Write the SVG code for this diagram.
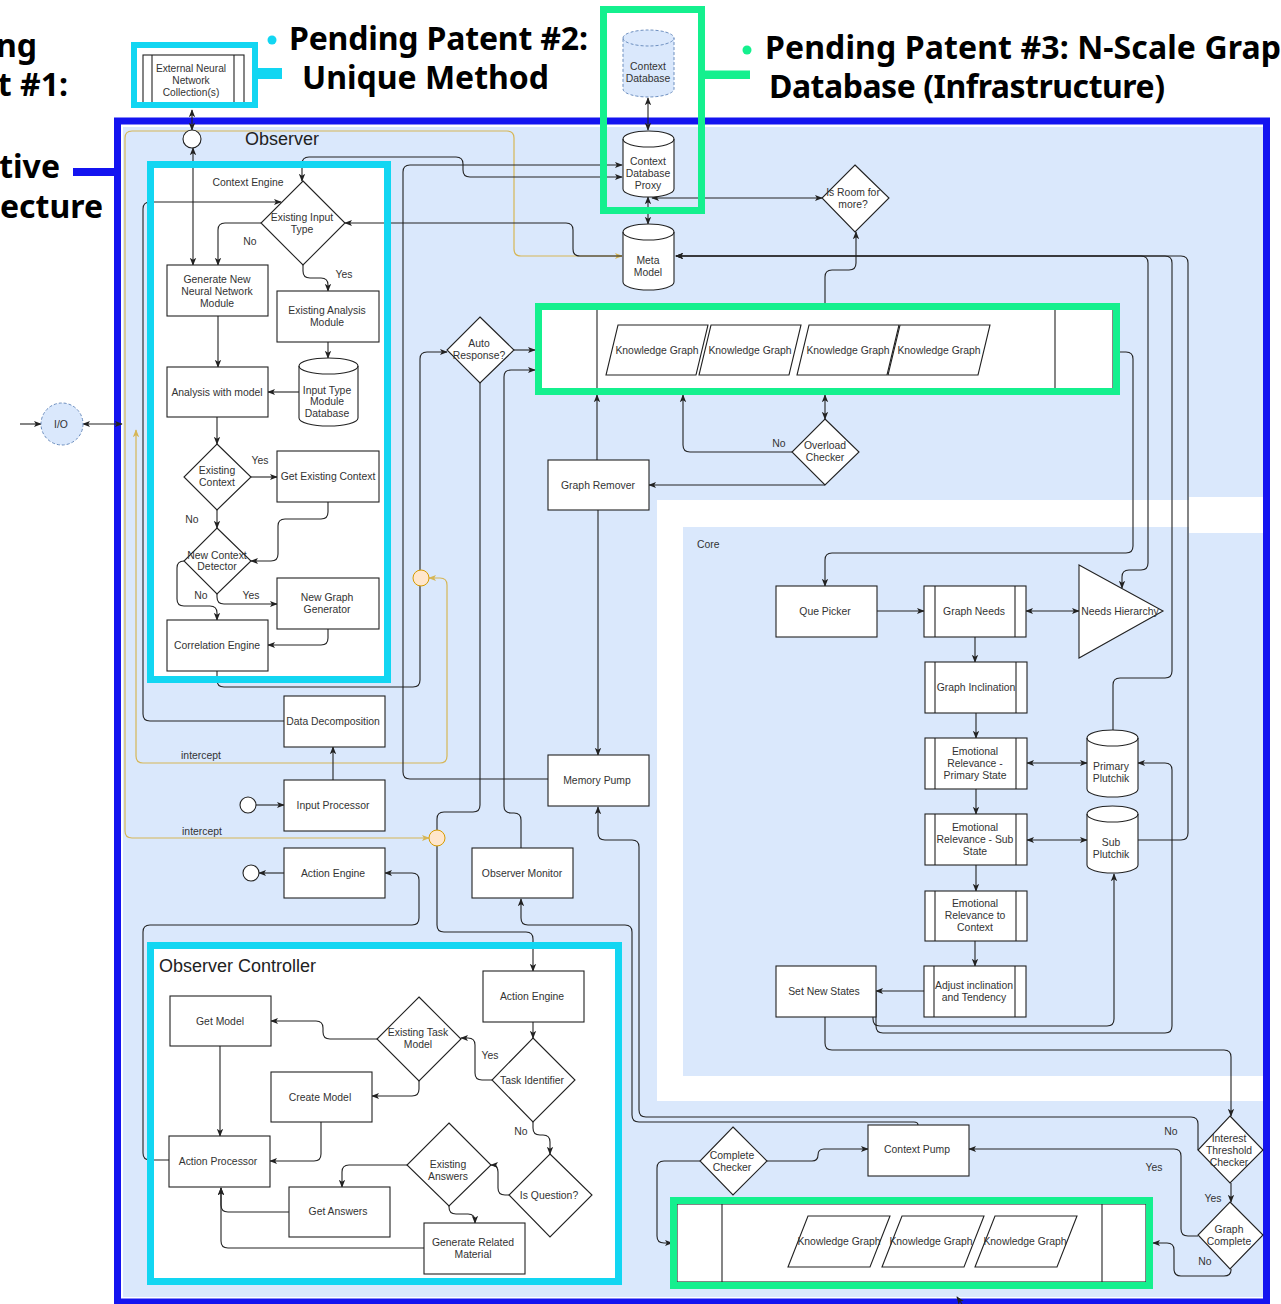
<svg xmlns="http://www.w3.org/2000/svg" width="1281" height="1304" viewBox="0 0 1281 1304">
<defs>
<marker id="a" viewBox="0 0 10 10" refX="9" refY="5" markerWidth="8" markerHeight="8" markerUnits="userSpaceOnUse" orient="auto-start-reverse"><path d="M0,1 L10,5 L0,9 L2.5,5 Z" fill="#222"/></marker>
<marker id="y" viewBox="0 0 10 10" refX="9" refY="5" markerWidth="8" markerHeight="8" markerUnits="userSpaceOnUse" orient="auto-start-reverse"><path d="M0,1 L10,5 L0,9 L2.5,5 Z" fill="#d6b656"/></marker>
<style>
.n{fill:#fff;stroke:#222;stroke-width:1.1}
.t{font-family:"Liberation Sans",Arial,sans-serif;font-size:10.4px;fill:#333;text-anchor:middle}
.l{font-family:"Liberation Sans",Arial,sans-serif;font-size:10.4px;fill:#333;text-anchor:middle}
.big{font-family:"Liberation Sans",Arial,sans-serif;font-size:18px;fill:#222}
.h{font-family:"Noto Sans","Open Sans","DejaVu Sans",sans-serif;font-size:32px;font-weight:700;fill:#000}
.e{fill:none;stroke:#222;stroke-width:1.1}
.e2{fill:none;stroke:#222;stroke-width:1.1;marker-end:url(#a)}
.e3{fill:none;stroke:#222;stroke-width:1.1;marker-end:url(#a);marker-start:url(#a)}
.tan{fill:none;stroke:#d6b656;stroke-width:1.2;marker-end:url(#y)}
.cy{fill:none;stroke:#12d6f2;stroke-width:7}
.gr{fill:none;stroke:#14f08e;stroke-width:7}
.orc{fill:#ffe6cc;stroke:#d79b00;stroke-width:1}
</style>
</defs>

<!-- titles -->
<g id="titles">
<text class="h" x="37" y="57" text-anchor="end">ng</text>
<text class="h" x="68" y="96" text-anchor="end">t #1:</text>
<text class="h" x="60" y="178" text-anchor="end">tive</text>
<text class="h" x="103" y="218" text-anchor="end">tecture</text>
<circle cx="272" cy="40" r="4.5" fill="#12d6f2"/>
<text class="h" x="289" y="50" textLength="299">Pending Patent #2:</text>
<text class="h" x="302" y="89" textLength="247">Unique Method</text>
<circle cx="747" cy="50" r="4.5" fill="#14f08e"/>
<text class="h" x="765" y="59" textLength="516">Pending Patent #3: N-Scale Grap</text>
<text class="h" x="769" y="98" textLength="396">Database (Infrastructure)</text>
<rect x="73" y="168" width="46" height="8" fill="#1414f0"/>
<rect x="256" y="68" width="26" height="11" fill="#12d6f2"/>
<rect x="704" y="70.5" width="46" height="8.5" fill="#14f08e"/>
</g>

<!-- background areas -->
<g id="areas">
<rect x="123" y="127" width="1140" height="1170" fill="#dae8fc"/>
<rect x="657" y="500" width="606" height="601" fill="#fff"/>
<rect x="683" y="527" width="580" height="549" fill="#dae8fc"/>
<rect x="1189" y="497" width="74" height="36" fill="#fff"/>
<rect x="117.5" y="121" width="1149" height="1181" fill="none" stroke="#1414f0" stroke-width="7"/>
<text class="big" x="245" y="145">Observer</text>
<text x="697" y="548" style="font-family:'Liberation Sans',Arial,sans-serif;font-size:10.4px;fill:#333">Core</text>
<rect x="150.5" y="164.5" width="237" height="515" fill="#fff"/>
<rect x="150.5" y="945.5" width="468" height="336" fill="#fff"/>
<rect x="541" y="309" width="572" height="80" class="n"/>
<line x1="597" y1="309" x2="597" y2="389" class="e"/>
<line x1="1055" y1="309" x2="1055" y2="389" class="e"/>
<rect x="677" y="1204" width="469" height="78" class="n"/>
<line x1="722" y1="1204" x2="722" y2="1282" class="e"/>
<line x1="1102" y1="1204" x2="1102" y2="1282" class="e"/>
<text class="t" x="248" y="185.5">Context Engine</text>
<text class="big" x="159" y="972">Observer Controller</text>
</g>

<!-- connectors -->
<g id="connectors">
<path class="tan" d="M125,425 V138 Q125,131 132,131 H507 Q514,131 514,138 V249 Q514,256 521,256 H622"/>
<path class="tan" d="M125,425 V831 Q125,838 132,838 H429"/>
<path class="tan" d="M136,430 V756 Q136,763 143,763 H440 Q447,763 447,756 V585 Q447,578 440,578 H429" style="marker-start:url(#y)"/>
<path class="e2" d="M20,424 H41"/>
<path class="e3" d="M83,424 H122"/>
<path class="e3" d="M192,110 V130"/>
<path class="e3" d="M193,148 V265"/>
<path class="e3" d="M302,181 V164 Q302,157 309,157 H456 Q463,157 463,164 V170 Q463,177 470,177 H622"/>
<path class="e2" d="M548,779 H410 Q403,779 403,772 V172 Q403,165 410,165 H622"/>
<path class="e2" d="M622,256 H580 Q573,256 573,249 V230 Q573,223 566,223 H345"/>
<path class="e2" d="M284,721 H150 Q143,721 143,714 V209 Q143,202 150,202 H281"/>
<path class="e2" d="M261,223 H225 Q218,223 218,230 V265"/>
<path class="e2" d="M303,265 V271 Q303,278 310,278 H321 Q328,278 328,285 V291"/>
<path class="e2" d="M328,342 V358"/>
<path class="e2" d="M299,392 H268"/>
<path class="e2" d="M218,316 V367"/>
<path class="e2" d="M217,417 V444"/>
<path class="e2" d="M251,477 H277"/>
<path class="e2" d="M217,510 V528"/>
<path class="e2" d="M328,502 V512 Q328,519 321,519 H285 Q278,519 278,526 V554 Q278,561 271,561 H251"/>
<path class="e2" d="M184,561 Q177,561 177,568 V599 Q177,606 184,606 H210 Q217,606 217,613 V620"/>
<path class="e2" d="M217,594 V597 Q217,604 224,604 H277"/>
<path class="e2" d="M328,629 V638 Q328,645 321,645 H268"/>
<path class="e2" d="M217,671 V680 Q217,687 224,687 H413 Q420,687 420,680 V359 Q420,352 427,352 H447"/>
<path class="e2" d="M514,350 H535"/>
<path class="e2" d="M521,848 V820 Q521,813 514,813 H511 Q504,813 504,806 V377 Q504,370 511,370 H535"/>
<path class="e2" d="M480,383 V805 Q480,812 473,812 H444 Q437,812 437,819 V925 Q437,932 444,932 H526 Q533,932 533,939 V971"/>
<path class="e3" d="M648,98 V130"/>
<path class="e3" d="M648,197 V224"/>
<path class="e3" d="M652,198 H822"/>
<path class="e2" d="M825,303 V277 Q825,270 832,270 H849 Q856,270 856,263 V232"/>
<path class="e3" d="M676,256 H1141 Q1148,256 1148,263 V563 Q1148,570 1141,570 H1129 Q1122,570 1122,577 V588"/>
<path class="e2" d="M1113,730 V685 Q1113,678 1120,678 H1165 Q1172,678 1172,671 V263 Q1172,256 1165,256 H676"/>
<path class="e2" d="M1138,840 H1181 Q1188,840 1188,833 V263 Q1188,256 1181,256 H676"/>
<path class="e2" d="M1113,352 H1126 Q1133,352 1133,359 V546 Q1133,553 1126,553 H832 Q825,553 825,560 V586"/>
<path class="e3" d="M825,395 V419"/>
<path class="e2" d="M792,452 H690 Q683,452 683,445 V395"/>
<path class="e2" d="M825,485 H649"/>
<path class="e2" d="M597,460 V395"/>
<path class="e2" d="M598,510 V755"/>
<path class="e2" d="M877,611 H924"/>
<path class="e3" d="M1026,611 H1079"/>
<path class="e2" d="M975,637 V662"/>
<path class="e2" d="M976,713 V738"/>
<path class="e3" d="M1027,763 H1087"/>
<path class="e2" d="M976,789 V814"/>
<path class="e3" d="M1027,840 H1087"/>
<path class="e2" d="M976,865 V891"/>
<path class="e2" d="M975,941 V966"/>
<path class="e2" d="M924,991 H876"/>
<path class="e2" d="M873,992 V1019 Q873,1026 880,1026 H1107 Q1114,1026 1114,1019 V874"/>
<path class="e2" d="M876,992 V1026 Q876,1033 883,1033 H1165 Q1172,1033 1172,1026 V770 Q1172,763 1165,763 H1138"/>
<path class="e2" d="M825,1017 V1043 Q825,1050 832,1050 H1224 Q1231,1050 1231,1057 V1116"/>
<path class="e2" d="M1198,1150 V1124 Q1198,1117 1191,1117 H646 Q639,1117 639,1110 V847 Q639,840 632,840 H605 Q598,840 598,833 V807"/>
<path class="e2" d="M918,1125 Q918,1122 914,1122 H639 Q632,1122 632,1115 V932 Q632,925 625,925 H528 Q521,925 521,918 V899"/>
<path class="e2" d="M1231,1183 V1202"/>
<path class="e2" d="M1198,1236 H1188 Q1181,1236 1181,1229 V1156 Q1181,1149 1174,1149 H969"/>
<path class="e2" d="M1231,1269 V1270 Q1231,1276 1224,1276 H1181 Q1174,1276 1174,1269 V1250 Q1174,1243 1167,1243 H1153"/>
<path class="e2" d="M767,1161 H812 Q818,1161 818,1155 Q818,1149 824,1149 H868"/>
<path class="e2" d="M700,1161 H664 Q657,1161 657,1168 V1236 Q657,1243 664,1243 H672"/>
<path class="e2" d="M962,1304 L957,1297"/>
<path class="e2" d="M533,1022 V1038"/>
<path class="e2" d="M492,1080 H482 Q475,1080 475,1073 V1045 Q475,1038 468,1038 H461"/>
<path class="e2" d="M377,1039 H330 Q323,1039 323,1032 V1028 Q323,1021 316,1021 H271"/>
<path class="e2" d="M419,1081 V1089 Q419,1096 412,1096 H372"/>
<path class="e2" d="M220,1046 V1136"/>
<path class="e2" d="M321,1122 V1154 Q321,1161 314,1161 H270"/>
<path class="e2" d="M533,1122 V1128 Q533,1135 540,1135 H543 Q550,1135 550,1142 V1154"/>
<path class="e2" d="M509,1195 H505 Q498,1195 498,1188 V1172 Q498,1165 491,1165"/>
<path class="e2" d="M407,1165 H349 Q342,1165 342,1172 V1187"/>
<path class="e2" d="M449,1206 V1207 Q449,1214 456,1214 H468 Q475,1214 475,1221 V1223"/>
<path class="e2" d="M289,1212 H228 Q221,1212 221,1205 V1188"/>
<path class="e2" d="M424,1248 H228 Q221,1248 221,1241 V1188"/>
<path class="e2" d="M169,1160 H150 Q143,1160 143,1153 V932 Q143,925 150,925 H412 Q419,925 419,918 V880 Q419,873 412,873 H385"/>
<path class="e2" d="M333,780 V747"/>
<path class="e2" d="M256,805 H284"/>
<path class="e2" d="M284,873 H259"/>
</g>

<!-- highlight frames -->
<g id="frames">
<rect x="150.5" y="164.5" width="237" height="515" class="cy"/>
<rect x="150.5" y="945.5" width="468" height="336" class="cy"/>
<rect x="538.5" y="306.5" width="578" height="85" class="gr"/>
<rect x="673.5" y="1200.5" width="476" height="85" class="gr"/>
<rect x="603.5" y="9.5" width="98" height="201" class="gr"/>
</g>

<!-- nodes -->
<g id="io"><circle cx="62" cy="424" r="21" fill="#dae8fc" stroke="#6c8ebf" stroke-dasharray="3 2"/><text class="t" x="61" y="427.5">I/O</text></g>
<g id="ext-nn"><rect x="143" y="55" width="101" height="50" class="n"/><line x1="152" y1="55" x2="152" y2="105" class="e"/><line x1="234" y1="55" x2="234" y2="105" class="e"/>
<text class="t" x="191" y="71.5" style="font-size:10.2px">External Neural</text><text class="t" x="191" y="83.5" style="font-size:10.2px">Network</text><text class="t" x="191" y="95.5" style="font-size:10.2px">Collection(s)</text>
<rect x="134" y="45" width="121" height="60" fill="none" stroke="#12d6f2" stroke-width="6"/></g>
<g id="obs-port"><circle cx="192" cy="139" r="9" class="n"/></g>
<g id="ctx-db"><path d="M623,38 A25.5,8 0 0 1 674,38 V89 A25.5,8 0 0 1 623,89 Z" fill="#dae8fc" stroke="#6c8ebf" stroke-dasharray="3 2"/><path d="M623,38 A25.5,8 0 0 0 674,38" fill="none" stroke="#6c8ebf" stroke-dasharray="3 2"/><text class="t" x="648" y="69.5">Context</text><text class="t" x="648" y="81.5">Database</text></g>
<g id="ctx-proxy"><path d="M623,139 A25.5,8 0 0 1 674,139 V189 A25.5,8 0 0 1 623,189 Z" class="n"/><path d="M623,139 A25.5,8 0 0 0 674,139" class="e"/><text class="t" x="648" y="164.5">Context</text><text class="t" x="648" y="176.5">Database</text><text class="t" x="648" y="188.5">Proxy</text></g>
<g id="meta"><path d="M623,232 A25.5,8 0 0 1 674,232 V282 A25.5,8 0 0 1 623,282 Z" class="n"/><path d="M623,232 A25.5,8 0 0 0 674,232" class="e"/><text class="t" x="648" y="263.5">Meta</text><text class="t" x="648" y="275.5">Model</text></g>
<g id="is-room"><polygon points="855,165 889,198 855,232 822,198" class="n"/><text class="t" x="853" y="195.5">Is Room for</text><text class="t" x="853" y="207.5">more?</text></g>
<g id="eit"><polygon points="303,181 345,223 303,265 261,223" class="n"/><text class="t" x="302" y="220.5">Existing Input</text><text class="t" x="302" y="232.5">Type</text></g>
<g id="gen-nn"><rect x="167" y="265" width="101" height="51" class="n"/><text class="t" x="217" y="282.5">Generate New</text><text class="t" x="217" y="294.5">Neural Network</text><text class="t" x="217" y="306.5">Module</text></g>
<g id="eam"><rect x="277" y="291" width="102" height="51" class="n"/><text class="t" x="327" y="313.5">Existing Analysis</text><text class="t" x="327" y="325.5">Module</text></g>
<g id="itmd"><path d="M299,366 A29.5,8 0 0 1 358,366 V418 A29.5,8 0 0 1 299,418 Z" class="n"/><path d="M299,366 A29.5,8 0 0 0 358,366" class="e"/><text class="t" x="327" y="393.5">Input Type</text><text class="t" x="327" y="404.5">Module</text><text class="t" x="327" y="416.5">Database</text></g>
<g id="awm"><rect x="167" y="367" width="101" height="50" class="n"/><text class="t" x="217" y="395.5">Analysis with model</text></g>
<g id="ec"><polygon points="217,444 251,477 217,510 184,477" class="n"/><text class="t" x="217" y="473.5">Existing</text><text class="t" x="217" y="485.5">Context</text></g>
<g id="gec"><rect x="277" y="451" width="102" height="51" class="n"/><text class="t" x="328" y="479.5">Get Existing Context</text></g>
<g id="ncd"><polygon points="217,528 251,561 217,594 184,561" class="n"/><text class="t" x="217" y="558.5">New Context</text><text class="t" x="217" y="569.5">Detector</text></g>
<g id="ngg"><rect x="277" y="578" width="102" height="51" class="n"/><text class="t" x="327" y="600.5">New Graph</text><text class="t" x="327" y="612.5">Generator</text></g>
<g id="ce"><rect x="167" y="620" width="101" height="51" class="n"/><text class="t" x="217" y="648.5">Correlation Engine</text></g>
<g id="dd"><rect x="284" y="696" width="101" height="51" class="n"/><text class="t" x="333" y="724.5">Data Decomposition</text></g>
<g id="ip-port"><circle cx="248" cy="805" r="8" class="n"/></g>
<g id="ip"><rect x="284" y="780" width="101" height="51" class="n"/><text class="t" x="333" y="808.5">Input Processor</text></g>
<g id="ae-port"><circle cx="251" cy="873" r="8" class="n"/></g>
<g id="ae"><rect x="284" y="848" width="101" height="50" class="n"/><text class="t" x="333" y="876.5">Action Engine</text></g>
<g id="auto"><polygon points="480,317 514,350 480,383 447,350" class="n"/><text class="t" x="479" y="346.5">Auto</text><text class="t" x="479" y="358.5">Response?</text></g>
<g id="kg-top">
<polygon points="618,325 708,325 696,375 606,375" class="n"/><text class="t" x="657" y="353.5">Knowledge Graph</text>
<polygon points="711,325 801,325 789,375 699,375" class="n"/><text class="t" x="750" y="353.5">Knowledge Graph</text>
<polygon points="809,325 899,325 887,375 797,375" class="n"/><text class="t" x="848" y="353.5">Knowledge Graph</text>
<polygon points="900,325 990,325 978,375 888,375" class="n"/><text class="t" x="939" y="353.5">Knowledge Graph</text>
</g>
<g id="overload"><polygon points="825,419 859,452 825,485 792,452" class="n"/><text class="t" x="825" y="448.5">Overload</text><text class="t" x="825" y="460.5">Checker</text></g>
<g id="gr"><rect x="548" y="460" width="101" height="50" class="n"/><text class="t" x="598" y="488.5">Graph Remover</text></g>
<g id="mp"><rect x="548" y="755" width="101" height="51" class="n"/><text class="t" x="597" y="783.5">Memory Pump</text></g>
<g id="om"><rect x="472" y="848" width="101" height="50" class="n"/><text class="t" x="522" y="876.5">Observer Monitor</text></g>
<g id="orange"><circle cx="421" cy="578" r="8" class="orc"/><circle cx="437" cy="838" r="8" class="orc"/></g>
<g id="que"><rect x="776" y="586" width="101" height="51" class="n"/><text class="t" x="825" y="614.5">Que Picker</text></g>
<g id="gneeds"><rect x="924" y="586" width="102" height="51" class="n"/><line x1="935" y1="586" x2="935" y2="637" class="e"/><line x1="1015" y1="586" x2="1015" y2="637" class="e"/><text class="t" x="974" y="614.5">Graph Needs</text></g>
<g id="nh"><polygon points="1079,565 1163,611 1079,658" class="n"/><text class="t" x="1120" y="614.5">Needs Hierarchy</text></g>
<g id="gincl"><rect x="925" y="662" width="102" height="51" class="n"/><line x1="935" y1="662" x2="935" y2="713" class="e"/><line x1="1016" y1="662" x2="1016" y2="713" class="e"/><text class="t" x="976" y="690.5">Graph Inclination</text></g>
<g id="erp"><rect x="925" y="738" width="102" height="51" class="n"/><line x1="935" y1="738" x2="935" y2="789" class="e"/><line x1="1016" y1="738" x2="1016" y2="789" class="e"/><text class="t" x="975" y="754.5">Emotional</text><text class="t" x="975" y="766.5">Relevance -</text><text class="t" x="975" y="778.5">Primary State</text></g>
<g id="pp"><path d="M1087,738 A25.5,8 0 0 1 1138,738 V789 A25.5,8 0 0 1 1087,789 Z" class="n"/><path d="M1087,738 A25.5,8 0 0 0 1138,738" class="e"/><text class="t" x="1111" y="769.5">Primary</text><text class="t" x="1111" y="781.5">Plutchik</text></g>
<g id="ers"><rect x="925" y="814" width="102" height="51" class="n"/><line x1="935" y1="814" x2="935" y2="865" class="e"/><line x1="1016" y1="814" x2="1016" y2="865" class="e"/><text class="t" x="975" y="830.5">Emotional</text><text class="t" x="975" y="842.5">Relevance - Sub</text><text class="t" x="975" y="854.5">State</text></g>
<g id="sp"><path d="M1087,814 A25.5,8 0 0 1 1138,814 V865 A25.5,8 0 0 1 1087,865 Z" class="n"/><path d="M1087,814 A25.5,8 0 0 0 1138,814" class="e"/><text class="t" x="1111" y="845.5">Sub</text><text class="t" x="1111" y="857.5">Plutchik</text></g>
<g id="erc"><rect x="925" y="891" width="102" height="50" class="n"/><line x1="935" y1="891" x2="935" y2="941" class="e"/><line x1="1016" y1="891" x2="1016" y2="941" class="e"/><text class="t" x="975" y="906.5">Emotional</text><text class="t" x="975" y="918.5">Relevance to</text><text class="t" x="975" y="930.5">Context</text></g>
<g id="adj"><rect x="924" y="966" width="102" height="51" class="n"/><line x1="934" y1="966" x2="934" y2="1017" class="e"/><line x1="1015" y1="966" x2="1015" y2="1017" class="e"/><text class="t" x="974" y="988.5">Adjust inclination</text><text class="t" x="974" y="1000.5">and Tendency</text></g>
<g id="sns"><rect x="776" y="966" width="100" height="51" class="n"/><text class="t" x="824" y="994.5">Set New States</text></g>
<g id="itc"><polygon points="1230,1116 1263,1150 1230,1183 1198,1150" class="n"/><text class="t" x="1229" y="1141.5">Interest</text><text class="t" x="1229" y="1153.5">Threshold</text><text class="t" x="1229" y="1165.5">Checker</text></g>
<g id="gc"><polygon points="1230,1202 1263,1235 1230,1269 1198,1235" class="n"/><text class="t" x="1229" y="1232.5">Graph</text><text class="t" x="1229" y="1244.5">Complete</text></g>
<g id="cp"><rect x="868" y="1125" width="101" height="51" class="n"/><text class="t" x="917" y="1152.5">Context Pump</text></g>
<g id="cc"><polygon points="733,1127 767,1161 733,1195 700,1161" class="n"/><text class="t" x="732" y="1158.5">Complete</text><text class="t" x="732" y="1170.5">Checker</text></g>
<g id="kg-bottom">
<polygon points="808,1216 890,1216 870,1267 788,1267" class="n"/><text class="t" x="839" y="1244.5">Knowledge Graph</text>
<polygon points="902,1216 984,1216 964,1267 882,1267" class="n"/><text class="t" x="931" y="1244.5">Knowledge Graph</text>
<polygon points="995,1216 1077,1216 1057,1267 975,1267" class="n"/><text class="t" x="1025" y="1244.5">Knowledge Graph</text>
</g>
<g id="ctrl-ae"><rect x="483" y="971" width="101" height="51" class="n"/><text class="t" x="532" y="999.5">Action Engine</text></g>
<g id="ti"><polygon points="533,1038 575,1080 533,1122 492,1080" class="n"/><text class="t" x="532" y="1083.5">Task Identifier</text></g>
<g id="etm"><polygon points="419,997 461,1039 419,1081 377,1039" class="n"/><text class="t" x="418" y="1035.5">Existing Task</text><text class="t" x="418" y="1047.5">Model</text></g>
<g id="gm"><rect x="170" y="996" width="101" height="50" class="n"/><text class="t" x="220" y="1024.5">Get Model</text></g>
<g id="cm"><rect x="271" y="1072" width="101" height="50" class="n"/><text class="t" x="320" y="1100.5">Create Model</text></g>
<g id="ap"><rect x="169" y="1136" width="101" height="51" class="n"/><text class="t" x="218" y="1164.5">Action Processor</text></g>
<g id="iq"><polygon points="550,1154 592,1195 550,1237 509,1195" class="n"/><text class="t" x="549" y="1199">Is Question?</text></g>
<g id="ea"><polygon points="449,1123 491,1165 449,1206 407,1165" class="n"/><text class="t" x="448" y="1167.5">Existing</text><text class="t" x="448" y="1179.5">Answers</text></g>
<g id="ga"><rect x="289" y="1187" width="101" height="50" class="n"/><text class="t" x="338" y="1215">Get Answers</text></g>
<g id="grm"><rect x="424" y="1223" width="101" height="51" class="n"/><text class="t" x="473" y="1245.5">Generate Related</text><text class="t" x="473" y="1257.5">Material</text></g>

<!-- edge labels -->
<g id="labels">
<text class="l" x="250" y="244.5">No</text>
<text class="l" x="344" y="277.5">Yes</text>
<text class="l" x="260" y="463.5">Yes</text>
<text class="l" x="192" y="522.5">No</text>
<text class="l" x="201" y="598.5">No</text>
<text class="l" x="251" y="598.5">Yes</text>
<text class="l" x="201" y="758.5">intercept</text>
<text class="l" x="202" y="834.5">intercept</text>
<text class="l" x="779" y="446.5">No</text>
<text class="l" x="490" y="1058.5">Yes</text>
<text class="l" x="521" y="1134.5">No</text>
<text class="l" x="1171" y="1134.5">No</text>
<text class="l" x="1154" y="1170.5">Yes</text>
<text class="l" x="1213" y="1201.5">Yes</text>
<text class="l" x="1205" y="1264.5">No</text>
</g>
</svg>
